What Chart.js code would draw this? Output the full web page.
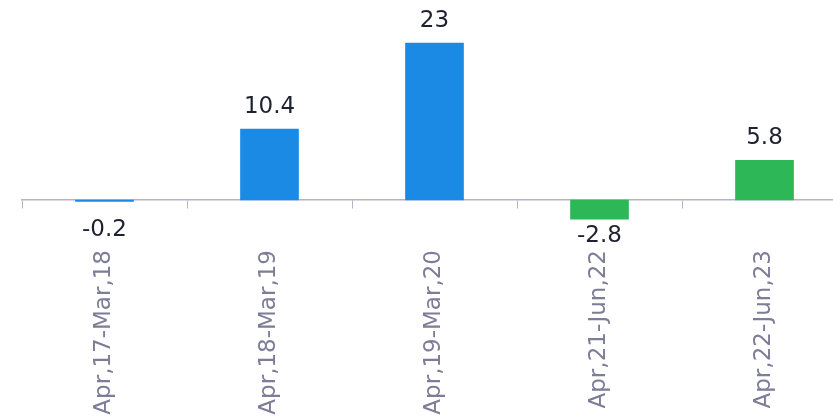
<!DOCTYPE html>
<html>
<head>
<meta charset="utf-8">
<script src="https://cdn.jsdelivr.net/npm/chart.js@4.4.1/dist/chart.umd.min.js"></script>
<style>
  html, body { margin: 0; padding: 0; background: #ffffff; overflow: hidden; width: 833px; height: 418px; }
  #wrap { position: absolute; left: 0; top: 0; width: 860px; height: 418px; }
</style>
</head>
<body>
<div id="wrap"><canvas id="c"></canvas></div>
<script>
const categories = ["Apr,17-Mar,18", "Apr,18-Mar,19", "Apr,19-Mar,20", "Apr,21-Jun,22", "Apr,22-Jun,23"];
const values = [-0.2, 10.4, 23, -2.8, 5.8];
const barColors = ["#1a8ae5", "#1a8ae5", "#1a8ae5", "#2db757", "#2db757"];

const valueLabels = {
  id: 'valueLabels',
  afterDatasetsDraw(chart) {
    const ctx = chart.ctx;
    const meta = chart.getDatasetMeta(0);
    ctx.save();
    ctx.font = '23px "DejaVu Sans", Verdana, sans-serif';
    ctx.fillStyle = '#1e2130';
    ctx.textAlign = 'center';
    meta.data.forEach((bar, i) => {
      const v = values[i];
      const p = bar.getProps(['x', 'y', 'base'], true);
      if (v >= 0) {
        ctx.textBaseline = 'alphabetic';
        ctx.fillText(String(v), p.x, Math.min(p.y, p.base) - 16);
      } else {
        ctx.textBaseline = 'top';
        ctx.fillText(String(v), p.x, Math.max(p.y, p.base + 14) + 5);
      }
    });
    ctx.restore();
  }
};

new Chart(document.getElementById('c'), {
  type: 'bar',
  data: {
    labels: categories,
    datasets: [{
      data: values,
      backgroundColor: barColors,
      borderWidth: 0,
      barThickness: 58
    }]
  },
  options: {
    responsive: true,
    maintainAspectRatio: false,
    animation: false,
    layout: { padding: { left: 22, right: 13, top: 2, bottom: 20 } },
    plugins: { legend: { display: false }, tooltip: { enabled: false } },
    scales: {
      x: {
        position: { y: 0 },
        offset: true,
        grid: { display: true, drawOnChartArea: false, drawTicks: true, tickLength: 8, color: '#b4b4c8', offset: true },
        border: { display: true, color: '#b4b4c8', width: 1.5 },
        ticks: {
          minRotation: 90, maxRotation: 90, autoSkip: false,
          padding: 42,
          color: '#7d7d98',
          font: { family: '"DejaVu Sans", Verdana, sans-serif', size: 23 }
        }
      },
      y: {
        display: false,
        min: -29,
        max: 29
      }
    }
  },
  plugins: [valueLabels]
});
</script>
</body>
</html>
